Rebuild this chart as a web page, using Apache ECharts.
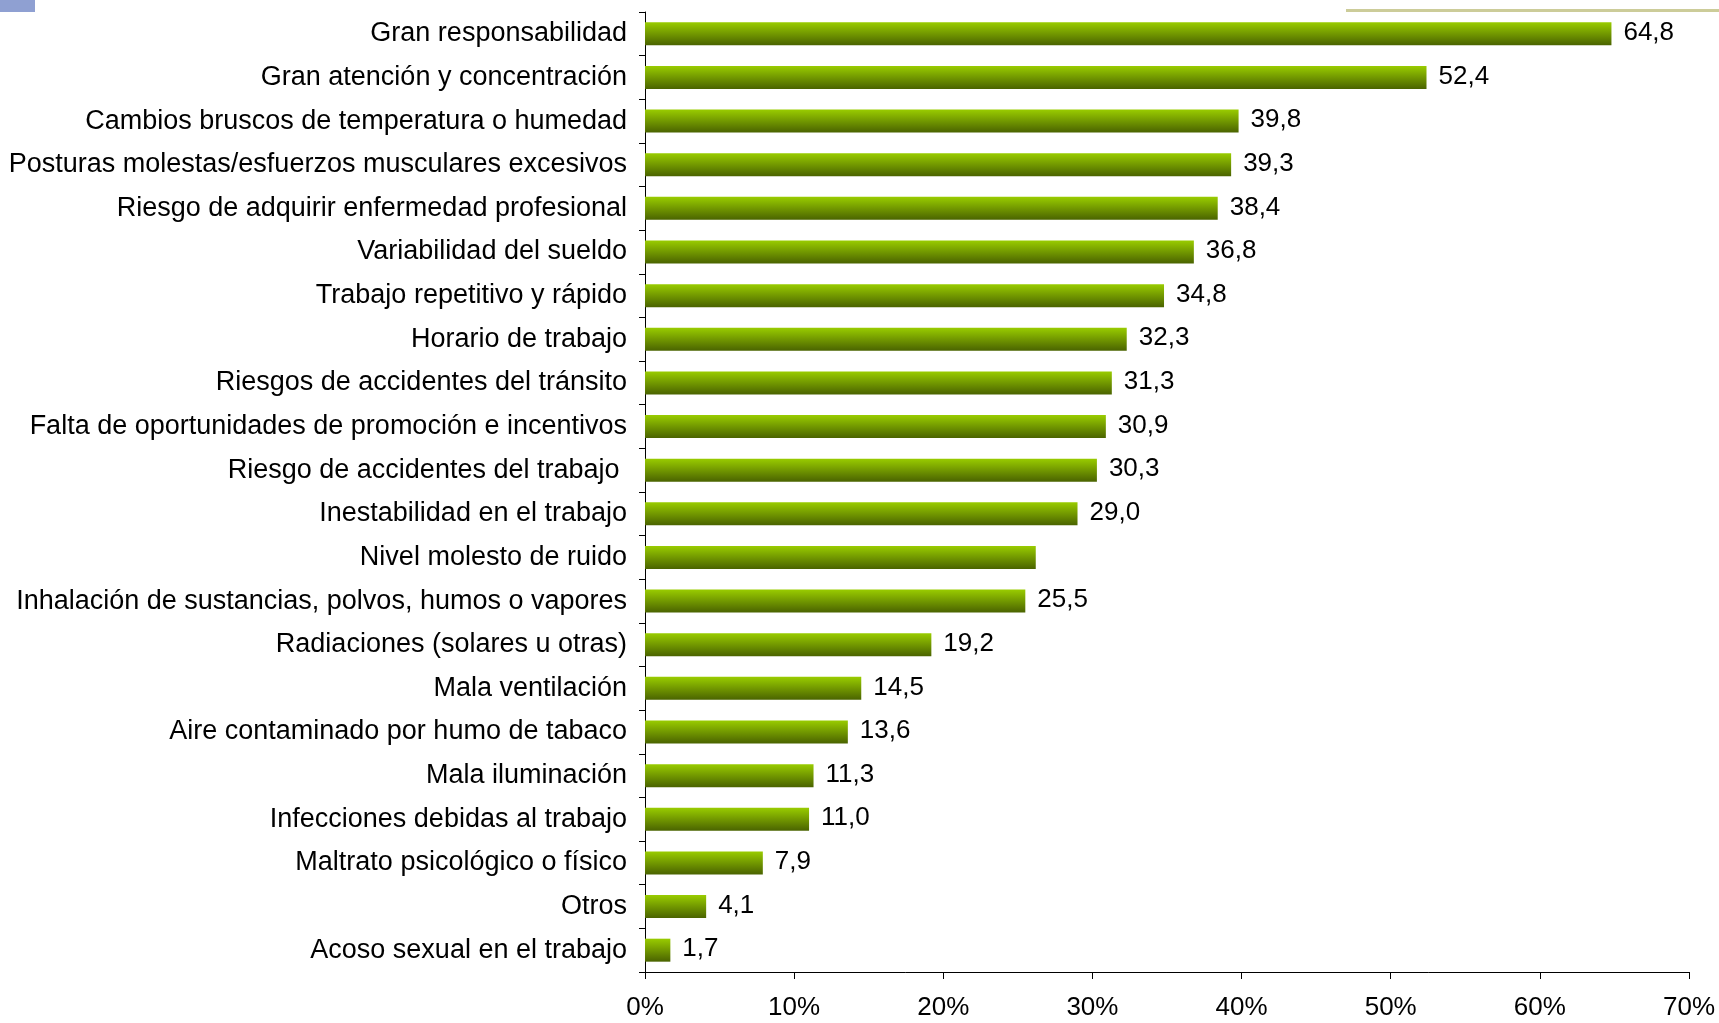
<!DOCTYPE html>
<html lang="es">
<head>
    <meta charset="UTF-8">
    <title>Factores de riesgo</title>
    <script src="https://cdn.jsdelivr.net/npm/echarts@6/dist/echarts.min.js"></script>
    <style>
        html, body { margin: 0; padding: 0; background: #fff; }
        #chart { width: 1719px; height: 1023px; position: relative; }
        .marca { position: absolute; left: 0; top: 0; width: 35px; height: 12px; background: #8fa0d2; z-index: 2; }
        .linea { position: absolute; left: 1346px; top: 9px; width: 373px; height: 3px; background: #cccc99; z-index: 2; }
    </style>
</head>
<body>
<div id="chart"></div>
<div class="marca"></div>
<div class="linea"></div>
<script>
    var categorias = [
        'Gran responsabilidad',
        'Gran atención y concentración',
        'Cambios bruscos de temperatura o humedad',
        'Posturas molestas/esfuerzos musculares excesivos',
        'Riesgo de adquirir enfermedad profesional',
        'Variabilidad del sueldo',
        'Trabajo repetitivo y rápido',
        'Horario de trabajo',
        'Riesgos de accidentes del tránsito',
        'Falta de oportunidades de promoción e incentivos',
        'Riesgo de accidentes del trabajo ',
        'Inestabilidad en el trabajo',
        'Nivel molesto de ruido',
        'Inhalación de sustancias, polvos, humos o vapores',
        'Radiaciones (solares u otras)',
        'Mala ventilación',
        'Aire contaminado por humo de tabaco',
        'Mala iluminación',
        'Infecciones debidas al trabajo',
        'Maltrato psicológico o físico',
        'Otros',
        'Acoso sexual en el trabajo'
    ];
    var valores = [64.8, 52.4, 39.8, 39.3, 38.4, 36.8, 34.8, 32.3, 31.3, 30.9, 30.3, 29.0,
        26.2, 25.5, 19.2, 14.5, 13.6, 11.3, 11.0, 7.9, 4.1, 1.7];
    // la barra de "Nivel molesto de ruido" no lleva etiqueta en el original
    var sinEtiqueta = ['Nivel molesto de ruido'];
    var ticksX = [0, 10, 20, 30, 40, 50, 60, 70];

    var fuente = 'Liberation Sans, Arial, sans-serif';

    var datos = valores.map(function (v, i) {
        var d = { value: v };
        if (sinEtiqueta.indexOf(categorias[i]) >= 0) {
            d.label = { show: false };
        }
        return d;
    });

    var option = {
        animation: false,
        grid: { left: 645, right: 30, top: 12, bottom: 51 },
        xAxis: {
            type: 'value',
            min: ticksX[0],
            max: ticksX[ticksX.length - 1],
            interval: 10,
            splitLine: { show: false },
            axisLine: { show: true, lineStyle: { color: '#000', width: 1 } },
            axisTick: { show: true, length: 7, lineStyle: { color: '#000' } },
            axisLabel: {
                color: '#000', fontSize: 26, fontFamily: fuente, margin: 23,
                formatter: '{value}%'
            }
        },
        yAxis: {
            type: 'category',
            inverse: true,
            data: categorias,
            axisLine: { show: true, lineStyle: { color: '#000', width: 1 } },
            axisTick: { show: true, length: 6, lineStyle: { color: '#000' } },
            axisLabel: { color: '#000', fontSize: 27, fontFamily: fuente, margin: 18 }
        },
        series: [{
            type: 'bar',
            data: datos,
            barWidth: 23,
            itemStyle: {
                color: new echarts.graphic.LinearGradient(0, 0, 0, 1, [
                    { offset: 0, color: '#99cc00' },
                    { offset: 1, color: '#4a6300' }
                ])
            },
            label: {
                show: true,
                position: 'right',
                distance: 12,
                offset: [0, -1],
                color: '#000',
                fontSize: 26,
                fontFamily: fuente,
                formatter: function (p) { return p.value.toFixed(1).replace('.', ','); }
            }
        }]
    };

    var myChart = echarts.init(document.getElementById('chart'));
    myChart.setOption(option);
</script>
</body>
</html>
